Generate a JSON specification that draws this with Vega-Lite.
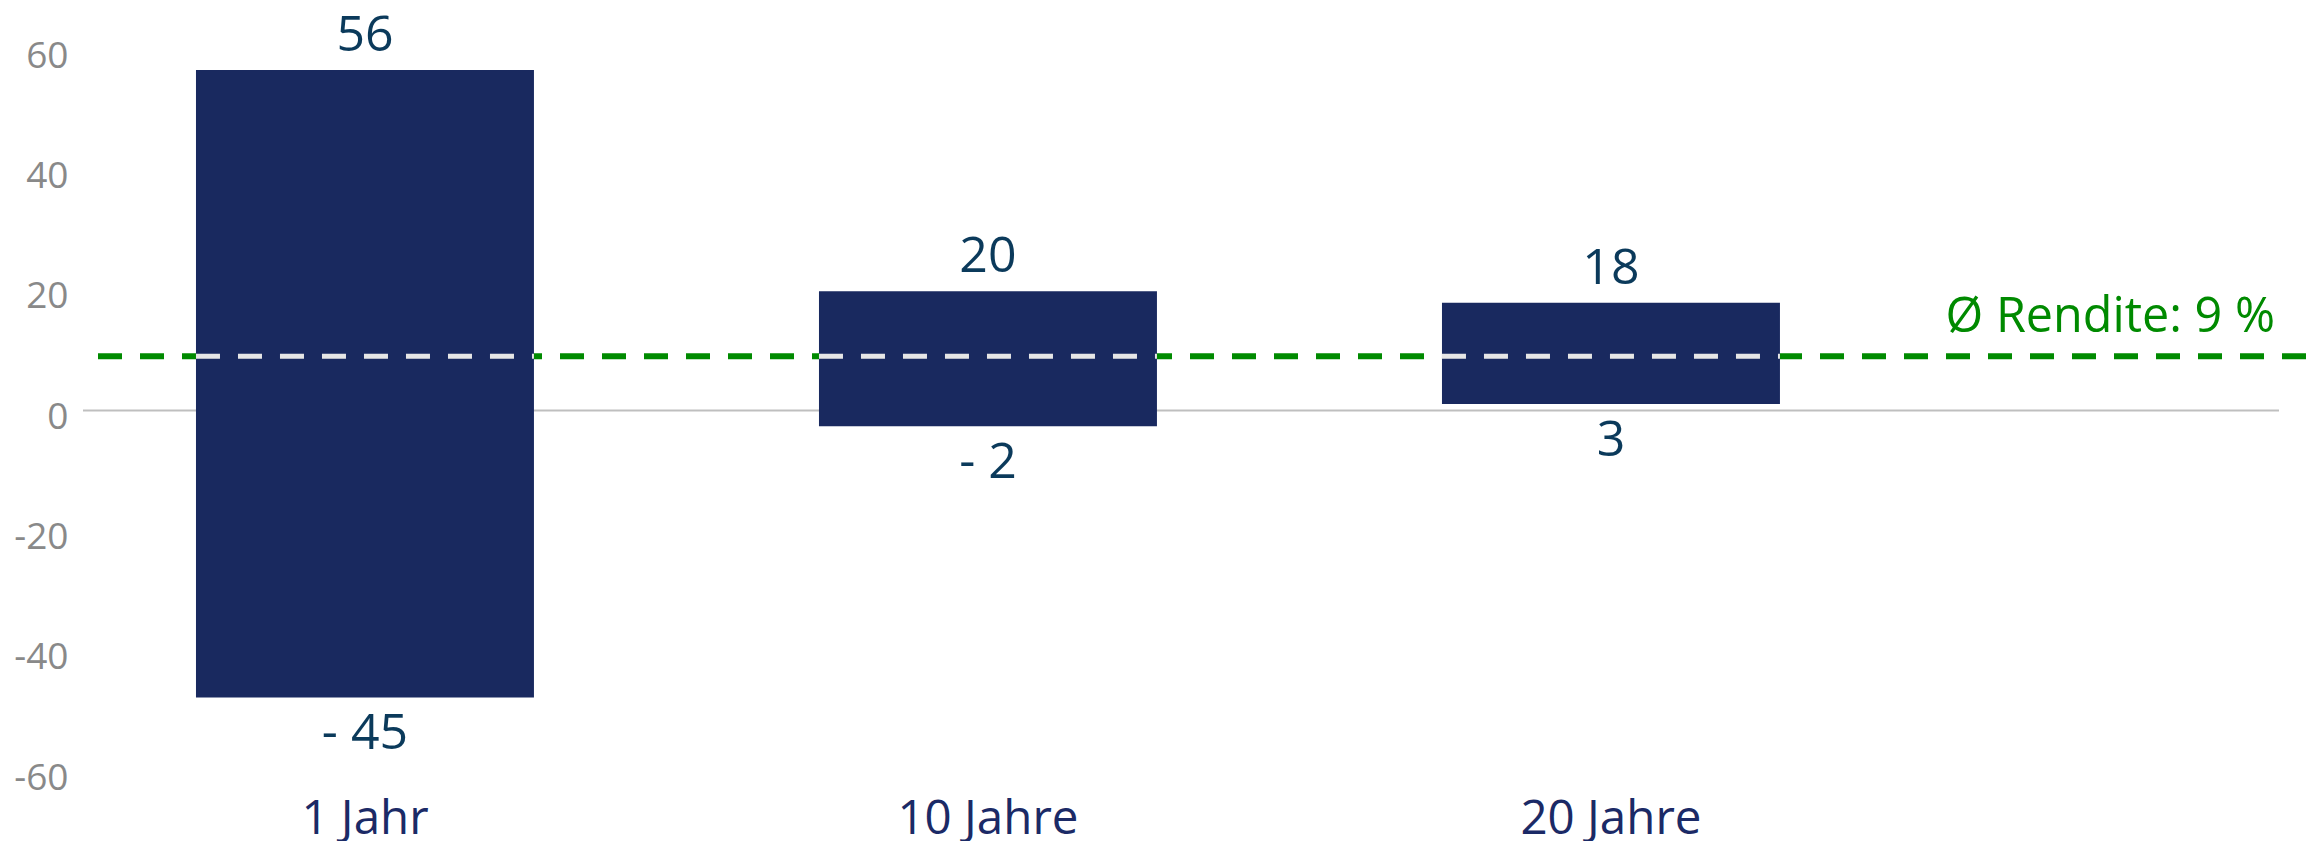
{
  "$schema": "https://vega.github.io/schema/vega-lite/v6.json",
  "autosize": {"type": "none"},
  "width": 2196,
  "height": 722,
  "padding": {"left": 83, "top": 49.5, "right": 34, "bottom": 69.5},
  "background": "#ffffff",
  "config": {"view": {"stroke": null}, "font": "Open Sans"},
  "datasets": {
    "ranges": [
      {"period": "1 Jahr", "low": -47.7, "high": 56.6, "lowLabel": "- 45", "highLabel": "56"},
      {"period": "10 Jahre", "low": -2.6, "high": 19.8, "lowLabel": "- 2", "highLabel": "20"},
      {"period": "20 Jahre", "low": 1.1, "high": 17.9, "lowLabel": "3", "highLabel": "18"}
    ],
    "avg": [{"value": 9, "label": "Ø Rendite: 9 %"}]
  },
  "encoding": {
    "x": {
      "field": "period", "type": "nominal", "sort": null,
      "scale": {"paddingInner": 0.4575, "paddingOuter": 0.4912, "align": 0.1846},
      "axis": {"title": null, "orient": "bottom", "domain": false, "ticks": false, "tickSize": 0, "grid": false,
        "labelAngle": 0, "labelFontSize": 47.5, "labelColor": "#1b2a66", "labelFont": "Open Sans", "labelLimit": 0,
        "labelBaseline": "alphabetic", "labelPadding": 62}
    }
  },
  "layer": [
    {
      "data": {"values": [{"zero": 0}]},
      "mark": {"type": "rule", "color": "#bfbfbf", "strokeWidth": 2},
      "encoding": {"x": null, "y": {"field": "zero", "type": "quantitative",
        "scale": {"domain": [-60, 60], "nice": false},
        "axis": {"title": null, "values": [-60, -40, -20, 0, 20, 40, 60], "domain": false, "ticks": false, "grid": false,
          "labelExpr": "'' + datum.value",
          "labelFontSize": 37, "labelColor": "#898989", "labelFont": "Open Sans", "labelPadding": 15,
          "labelBaseline": "alphabetic", "labelOffset": 17.5}}}
    },
    {
      "data": {"name": "avg"},
      "mark": {"type": "rule", "color": "#008a00", "strokeWidth": 6, "strokeDash": [24, 18], "xOffset": 15, "x2Offset": 27},
      "encoding": {"x": {"value": 0}, "x2": {"value": "width"}, "y": {"field": "value", "type": "quantitative"}}
    },
    {
      "data": {"name": "ranges"},
      "mark": {"type": "bar", "color": "#19295f"},
      "encoding": {
        "y": {"field": "low", "type": "quantitative"},
        "y2": {"field": "high"}
      }
    },
    {
      "data": {"name": "ranges"},
      "mark": {"type": "rule", "color": "#e6e6e6", "strokeWidth": 5, "strokeDash": [24, 18]},
      "encoding": {
        "x": {"field": "period", "type": "nominal", "sort": null, "bandPosition": 0},
        "x2": {"field": "period", "bandPosition": 1},
        "y": {"datum": 9, "type": "quantitative"}
      }
    },
    {
      "data": {"name": "ranges"},
      "mark": {"type": "text", "fontSize": 50, "color": "#0b3a5b", "baseline": "alphabetic", "dy": -19, "font": "Open Sans"},
      "encoding": {
        "y": {"field": "high", "type": "quantitative"},
        "text": {"field": "highLabel"}
      }
    },
    {
      "data": {"name": "ranges"},
      "mark": {"type": "text", "fontSize": 50, "color": "#0b3a5b", "baseline": "alphabetic", "dy": 52, "font": "Open Sans"},
      "encoding": {
        "y": {"field": "low", "type": "quantitative"},
        "text": {"field": "lowLabel"}
      }
    },
    {
      "data": {"name": "avg"},
      "mark": {"type": "text", "fontSize": 48.5, "color": "#008a00", "baseline": "alphabetic", "align": "right", "dy": -24.5, "dx": -4, "font": "Open Sans"},
      "encoding": {
        "x": {"value": "width"},
        "y": {"field": "value", "type": "quantitative"},
        "text": {"field": "label"}
      }
    }
  ]
}
